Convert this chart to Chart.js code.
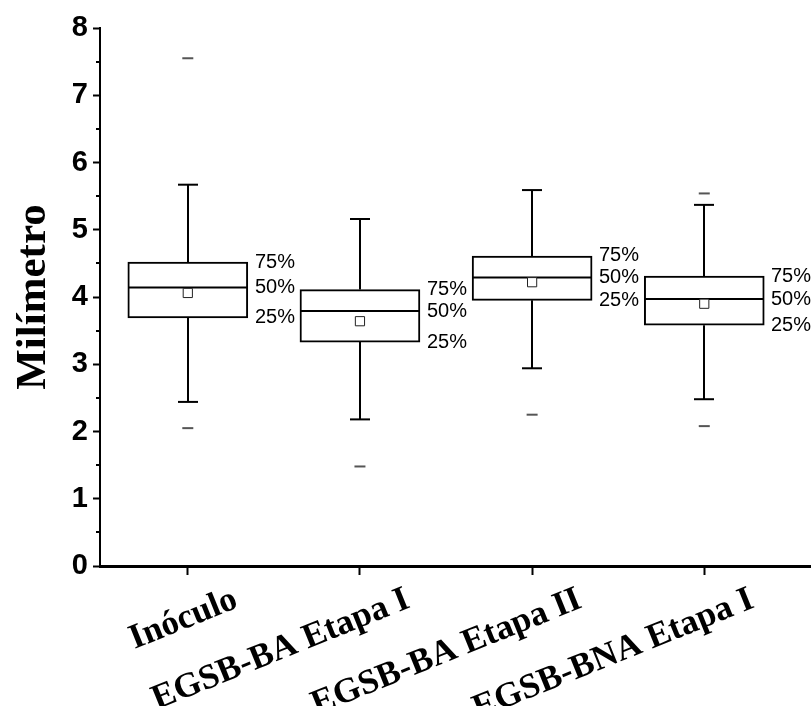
<!DOCTYPE html>
<html>
<head>
<meta charset="utf-8">
<script src="https://cdn.jsdelivr.net/npm/chart.js@4/dist/chart.umd.min.js"></script>
<style>
  body { margin: 0; background: #fff; }
</style>
</head>
<body>
<canvas id="mycanvas" width="811" height="706"></canvas>
<script>
// values
var categories = ['Inóculo', 'EGSB-BA Etapa I', 'EGSB-BA Etapa II', 'EGSB-BNA Etapa I'];
var q1 = [3.69, 3.33, 3.95, 3.58];
var median = [4.14, 3.79, 4.29, 3.97];
var q3 = [4.52, 4.11, 4.61, 4.31];
var mean = [4.06, 3.64, 4.22, 3.90];
var whiskerLow = [2.44, 2.18, 2.94, 2.48];
var whiskerHigh = [5.67, 5.16, 5.59, 5.37];
var minVals = [2.05, 1.48, 2.25, 2.08];
var maxVals = [7.55, null, null, 5.54];
var yTicks = [0, 1, 2, 3, 4, 5, 6, 7, 8];
var pctLabels = ['25%', '50%', '75%'];

var boxWidth = 120;
var capWidth = 20;

var boxData = [], meanData = [], extremeData = [];
for (var i in categories) {
  var k = Number(i);
  boxData.push({ x: k + 1, y: [q1[k], q3[k]] });
  meanData.push({ x: k + 1, y: mean[k] });
  extremeData.push({ x: k + 1, y: minVals[k] });
  if (maxVals[k] !== null) extremeData.push({ x: k + 1, y: maxVals[k] });
}

function hline(ctx, x1, x2, y) {
  ctx.beginPath(); ctx.moveTo(x1, y); ctx.lineTo(x2, y); ctx.stroke();
}
function vline(ctx, x, y1, y2) {
  ctx.beginPath(); ctx.moveTo(x, y1); ctx.lineTo(x, y2); ctx.stroke();
}

var boxExtras = {
  id: 'boxExtras',
  afterDatasetDraw: function(chart, args) {
    if (args.index !== 0) return;
    var ctx = chart.ctx, xs = chart.scales.x, ys = chart.scales.y;
    ctx.save();
    ctx.strokeStyle = '#000';
    ctx.lineWidth = 2;
    for (var i = 0; i < categories.length; i++) {
      var cx = Math.round(xs.getPixelForValue(i + 1));
      var half = boxWidth / 2;
      hline(ctx, cx - half, cx + half, ys.getPixelForValue(median[i]));
      vline(ctx, cx, ys.getPixelForValue(q3[i]), ys.getPixelForValue(whiskerHigh[i]));
      vline(ctx, cx, ys.getPixelForValue(q1[i]), ys.getPixelForValue(whiskerLow[i]));
      hline(ctx, cx - capWidth / 2, cx + capWidth / 2, ys.getPixelForValue(whiskerHigh[i]));
      hline(ctx, cx - capWidth / 2, cx + capWidth / 2, ys.getPixelForValue(whiskerLow[i]));

      ctx.fillStyle = '#000';
      ctx.font = '20px "Liberation Sans", Arial, sans-serif';
      ctx.textAlign = 'left';
      ctx.textBaseline = 'middle';
      var vals = [q1[i], median[i], q3[i]];
      for (var j = 0; j < 3; j++) {
        ctx.fillText(pctLabels[j], cx + half + 7, ys.getPixelForValue(vals[j]));
      }
    }
    ctx.restore();
  },
  afterDraw: function(chart) {
    // minor ticks on the y axis
    var ctx = chart.ctx, ys = chart.scales.y;
    var left = chart.chartArea.left;
    ctx.save();
    ctx.strokeStyle = '#000';
    ctx.lineWidth = 2;
    for (var v = 0.5; v < 8; v += 1) {
      hline(ctx, left - 4, left, Math.round(ys.getPixelForValue(v)));
    }
    ctx.restore();
  }
};

var ctx = document.getElementById('mycanvas');
var chart = new Chart(ctx, {
  type: 'bar',
  data: {
    datasets: [
      {
        type: 'bar',
        data: boxData,
        backgroundColor: '#fff',
        borderColor: '#000',
        borderWidth: 2,
        borderSkipped: false,
        barThickness: boxWidth,
        order: 3
      },
      {
        type: 'scatter',
        data: meanData,
        pointStyle: 'rect',
        pointRadius: 6.5,
        backgroundColor: '#fff',
        borderColor: '#222',
        borderWidth: 1,
        order: 1
      },
      {
        type: 'scatter',
        data: extremeData,
        pointStyle: 'line',
        pointRadius: 5.5,
        borderColor: '#555',
        borderWidth: 2,
        order: 2
      }
    ]
  },
  options: {
    responsive: false,
    animation: false,
    layout: { autoPadding: false, padding: { top: 28, right: 0, left: 0, bottom: 0 } },
    plugins: { legend: { display: false }, tooltip: { enabled: false } },
    scales: {
      x: {
        type: 'linear',
        min: 0.49,
        max: 4.62,
        offset: false,
        afterBuildTicks: function(scale) {
          scale.ticks = categories.map(function(c, i) { return { value: i + 1 }; });
        },
        afterFit: function(scale) {
          scale.height = 140;
          scale.paddingLeft = 0;
          scale.paddingRight = 0;
        },
        grid: { display: true, offset: false, drawOnChartArea: false, tickLength: 9, tickColor: '#000', tickWidth: 2 },
        border: { display: true, color: '#000', width: 3 },
        ticks: {
          autoSkip: false,
          minRotation: 22,
          maxRotation: 22,
          labelOffset: 48,
          padding: 4,
          color: '#000',
          font: { family: '"Liberation Serif", "Times New Roman", serif', size: 35, weight: 'bold' },
          callback: function(v) { return categories[v - 1]; }
        }
      },
      y: {
        min: 0,
        max: 8,
        afterBuildTicks: function(scale) {
          scale.ticks = yTicks.map(function(v) { return { value: v }; });
        },
        afterFit: function(scale) { scale.width = 100; },
        grid: { display: true, drawOnChartArea: false, tickLength: 7, tickColor: '#000', tickWidth: 2 },
        border: { display: true, color: '#000', width: 2 },
        ticks: {
          padding: 5,
          color: '#000',
          font: { family: '"Liberation Sans", Arial, sans-serif', size: 29, weight: 'bold' }
        },
        title: {
          display: true,
          text: 'Milímetro',
          color: '#000',
          padding: { top: 8, bottom: 0 },
          font: { family: '"Liberation Serif", "Times New Roman", serif', size: 43, weight: 'bold' }
        }
      }
    }
  },
  plugins: [boxExtras]
});
</script>
</body>
</html>
